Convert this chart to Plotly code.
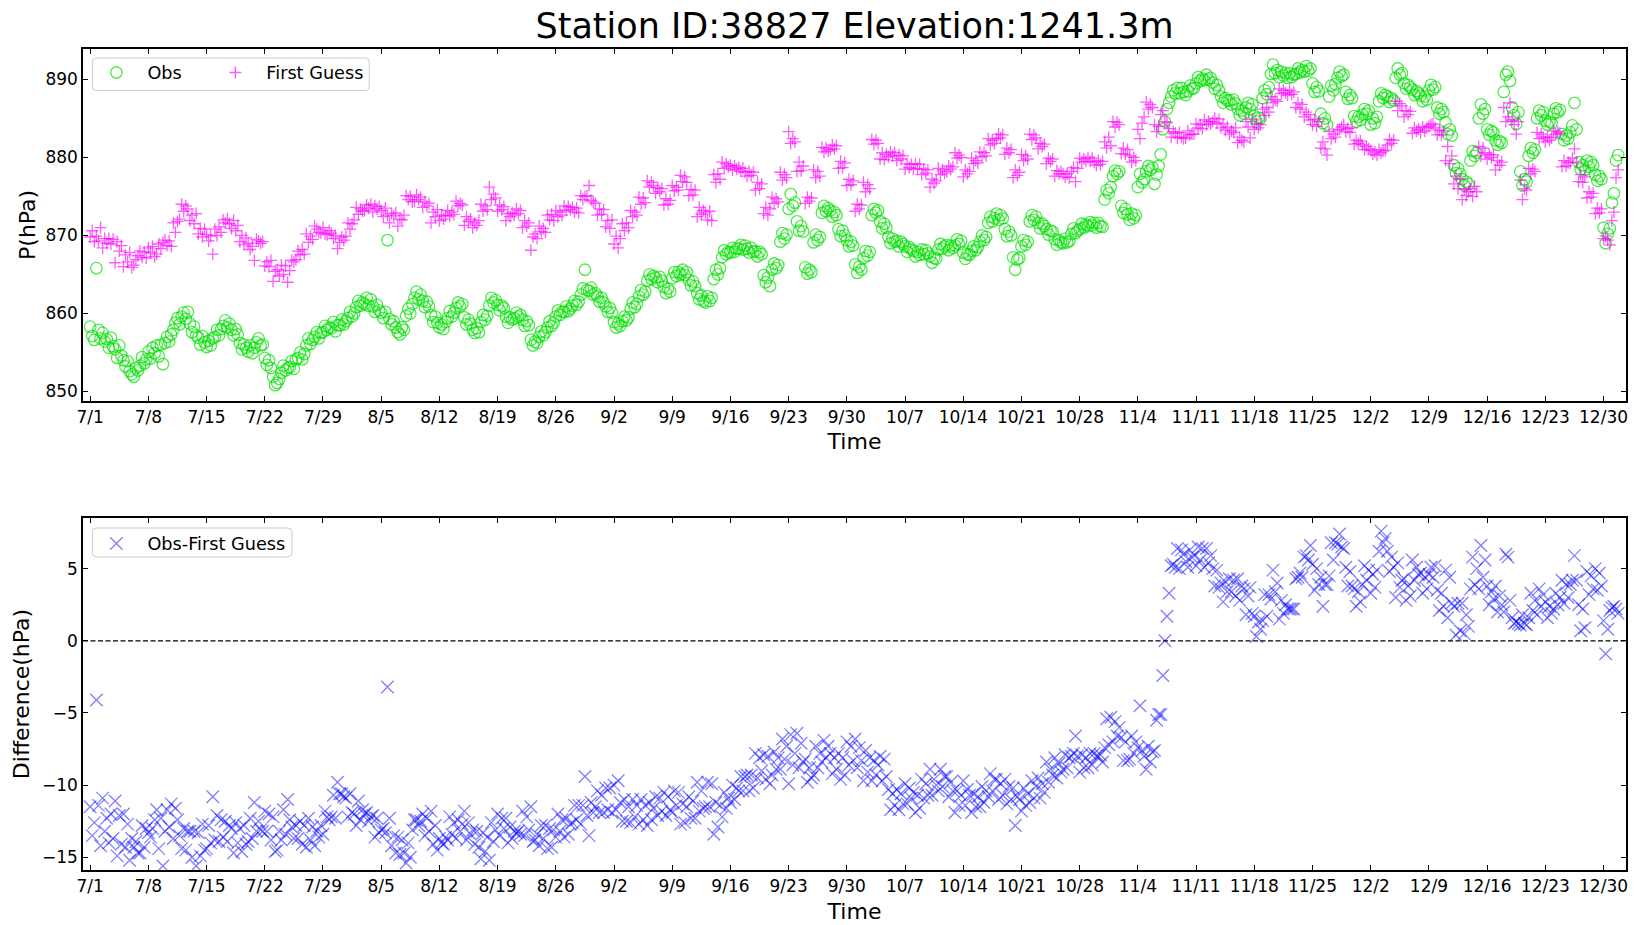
import pandas as pd
import plotly.graph_objects as go

TITLE = "Station ID:38827 Elevation:1241.3m"
START = "2023-07-01"
TICK_FMT = "%-m/%-d"

# 6-hourly observations (00, 06, 12, 18 UTC), hPa
obs_jul = [
    858.3, 857.1, 856.6, 865.8, 857.9, 856.8, 857.5, 856.4, 856.7, 855.6, 856.9, 855.8,
    855.4, 854.3, 855.9, 854.6, 854.0, 853.2, 853.9, 852.6, 852.2, 851.9, 853.0, 852.7,
    853.3, 854.4, 853.6, 854.1, 855.1, 854.2, 855.6, 854.9, 855.9, 854.5, 856.0, 853.5,
    856.2, 857.0, 856.4, 857.3, 857.9, 858.8, 859.4, 858.6, 859.6, 860.1, 859.3, 860.2,
    858.7, 857.6, 858.3, 857.2, 856.9, 856.0, 857.1, 856.3, 855.7, 856.5, 855.9, 856.8,
    857.0, 857.9, 857.2, 858.0, 858.4, 859.1, 858.2, 858.7, 857.9, 857.2, 858.0, 857.3,
    856.2, 855.4, 856.0, 855.6, 855.1, 855.9, 854.9, 855.6, 856.3, 856.8, 855.9, 856.0,
    854.3, 853.4, 854.0, 853.0, 851.9, 850.8, 851.1, 851.6, 852.4, 853.3, 852.7, 853.0,
    853.1, 853.9, 852.9, 854.1, 854.3, 855.0, 854.1, 854.8, 855.9, 856.8, 856.1, 856.6,
    857.0, 857.6, 856.8, 857.5, 857.6, 858.4, 857.9, 858.2, 858.1, 858.9, 857.7, 858.5,
    858.5, 859.2, 858.6, 859.0,
]
obs_aug = [
    859.4, 860.2, 859.6, 860.0, 860.8, 861.6, 861.0, 861.4, 861.2, 862.0, 861.0, 861.8,
    860.9, 860.2, 861.1, 860.4, 860.1, 859.4, 860.2, 869.4, 859.3, 858.6, 859.0, 858.2,
    857.6, 857.3, 858.2, 857.9, 859.7, 860.6, 860.0, 861.2, 862.0, 862.8, 861.8, 862.4,
    861.6, 860.8, 861.5, 860.9, 859.8, 858.9, 859.6, 858.8, 858.2, 858.6, 858.0, 858.9,
    859.4, 860.3, 859.6, 860.1, 860.7, 861.4, 860.9, 861.2, 859.5, 858.6, 859.2, 858.7,
    857.9, 857.5, 858.1, 857.6, 858.9, 859.8, 859.2, 859.7, 861.0, 862.0, 861.4, 861.7,
    861.1, 860.4, 861.0, 860.7, 859.6, 858.8, 859.5, 859.2, 859.4, 860.1, 859.6, 859.8,
    859.2, 858.4, 859.0, 858.5, 856.6, 855.9, 856.4, 856.2, 857.0, 857.7, 857.2, 857.6,
    858.2, 859.0, 858.4, 858.8, 859.6, 860.4, 859.8, 860.2, 860.2, 860.9, 860.3, 860.6,
    861.0, 861.6, 861.1, 861.5, 862.4, 863.2, 865.6, 863.0, 862.9, 863.3, 862.4, 862.6,
    862.2, 861.5, 862.0, 861.4,
]
obs_sep = [
    860.9, 860.2, 860.7, 860.1, 858.9, 858.2, 858.7, 858.4, 859.0, 859.6, 859.1, 859.5,
    860.6, 861.4, 860.8, 861.2, 862.2, 863.0, 862.4, 862.8, 864.2, 865.0, 864.4, 864.8,
    864.6, 864.0, 864.7, 864.2, 863.4, 862.6, 863.2, 862.8, 864.5, 865.3, 864.8, 865.3,
    865.0, 865.6, 864.9, 865.3, 864.3, 863.6, 864.1, 863.5, 862.6, 861.8, 862.3, 861.6,
    861.4, 862.2, 861.6, 862.0, 864.4, 865.6, 865.0, 865.8, 867.2, 868.1, 867.6, 867.9,
    867.8, 868.4, 867.9, 868.3, 868.3, 868.8, 868.2, 868.7, 868.3, 867.8, 868.4, 867.9,
    868.0, 867.3, 867.9, 867.6, 864.9, 864.0, 864.6, 863.5, 865.6, 866.4, 865.8, 866.2,
    869.2, 870.3, 869.6, 870.1, 873.4, 875.3, 873.8, 874.2, 871.8, 870.6, 871.2, 870.5,
    865.9, 865.1, 865.6, 865.3, 869.1, 870.1, 869.4, 869.8, 872.9, 873.8, 873.1, 873.5,
    873.2, 872.4, 873.0, 872.6, 870.8, 869.9, 870.6, 870.0, 869.4, 868.6, 869.2, 868.7,
]
obs_oct = [
    866.3, 865.2, 866.0, 865.6, 867.1, 868.0, 867.4, 867.9, 872.6, 873.4, 872.9, 873.2,
    871.8, 870.9, 871.5, 871.0, 869.8, 869.0, 869.6, 869.2, 869.3, 868.6, 869.2, 868.9,
    868.6, 867.9, 868.5, 868.2, 868.0, 867.3, 867.9, 867.5, 868.2, 867.6, 868.1, 867.7,
    867.3, 866.5, 867.1, 867.0, 868.2, 868.9, 868.3, 868.6, 868.8, 868.1, 868.7, 868.4,
    868.7, 869.5, 868.9, 869.3, 867.8, 867.0, 867.6, 867.5, 868.0, 868.6, 868.1, 868.5,
    869.2, 870.0, 869.4, 869.8, 871.6, 872.4, 871.8, 872.2, 872.8, 872.0, 872.6, 872.2,
    870.8, 869.9, 870.5, 870.0, 867.2, 865.6, 866.9, 867.1, 868.6, 869.4, 868.8, 869.2,
    871.8, 872.6, 872.0, 872.4, 871.6, 870.9, 871.5, 871.2, 870.8, 870.1, 870.6, 870.5,
    869.5, 868.8, 869.4, 869.1, 869.0, 869.6, 869.1, 869.3, 870.2, 870.9, 870.3, 870.6,
    870.8, 871.5, 871.0, 871.4, 871.2, 871.7, 871.3, 871.6, 871.0, 871.6, 871.2, 871.1,
    874.6, 875.8, 875.4, 876.2,
]
obs_nov = [
    877.6, 878.3, 877.9, 878.2, 873.8, 872.9, 873.4, 872.7, 872.0, 872.8, 872.2, 872.6,
    876.2, 877.9, 876.8, 877.2, 878.2, 878.9, 878.4, 878.7, 876.6, 877.8, 878.9, 880.4,
    883.6, 884.6, 886.2, 887.0, 887.8, 888.6, 888.2, 888.9, 888.2, 888.9, 888.4, 888.0,
    888.5, 889.2, 888.8, 888.9, 889.5, 890.3, 889.8, 890.1, 889.9, 890.6, 890.0, 890.2,
    889.6, 888.8, 889.3, 888.6, 887.8, 887.0, 887.6, 887.3, 887.3, 886.8, 887.4, 886.9,
    886.2, 885.4, 886.0, 885.6, 886.4, 887.0, 886.2, 886.8, 885.3, 884.6, 885.1, 885.0,
    887.6, 888.6, 888.1, 889.0, 890.7, 891.9, 890.8, 891.2, 890.3, 891.0, 890.5, 890.8,
    890.2, 890.8, 890.3, 890.6, 890.7, 891.4, 890.9, 891.2, 891.0, 891.7, 891.1, 891.4,
    889.5, 888.4, 889.0, 888.5, 885.6, 884.4, 885.0, 884.2, 887.8, 889.2, 888.6, 889.4,
    890.2, 891.0, 890.4, 890.6, 888.4, 887.5, 888.0, 887.6, 885.3, 884.6, 885.2, 884.8,
]
obs_dec = [
    885.5, 886.2, 885.6, 886.0, 884.2, 885.0, 884.4, 885.2, 887.2, 888.2, 887.6, 888.0,
    887.8, 887.1, 887.6, 887.3, 890.2, 891.4, 890.6, 890.8, 889.5, 888.8, 889.3, 889.0,
    888.7, 888.0, 888.5, 888.2, 887.9, 887.2, 887.8, 887.4, 888.6, 889.3, 888.7, 889.0,
    886.4, 885.6, 886.2, 885.8, 884.5, 883.0, 883.6, 882.8, 879.0, 878.0, 878.6, 877.9,
    877.2, 876.4, 876.9, 876.6, 879.6, 880.8, 880.2, 880.6, 885.0, 886.8, 885.6, 886.2,
    883.6, 882.9, 883.4, 883.2, 882.2, 881.6, 882.1, 881.9, 888.4, 890.6, 891.0, 889.8,
    886.4, 885.4, 884.3, 885.8, 878.2, 876.4, 877.2, 876.9, 880.2, 881.2, 880.6, 881.0,
    885.0, 886.0, 885.4, 885.8, 884.7, 884.2, 884.6, 884.4, 885.6, 886.3, 885.8, 886.1,
    883.0, 882.2, 882.8, 882.4, 883.2, 884.1, 887.0, 883.6, 879.4, 878.5, 879.0, 878.4,
    879.6, 878.8, 879.4, 879.0, 877.8, 877.0, 877.6, 877.2, 871.0, 869.0, 870.2, 870.9,
    874.2, 875.4, 879.6, 880.3,
]

# 6-hourly first guess, hPa
fg_jul = [
    869.8, 870.6, 869.2, 869.9, 869.3, 871.0, 868.4, 869.6, 869.0, 869.6, 868.9, 869.5,
    866.5, 869.2, 868.0, 868.7, 866.0, 867.5, 866.6, 867.8, 865.9, 866.2, 866.9, 867.4,
    868.0, 867.2, 867.9, 867.1, 868.4, 867.8, 868.6, 867.3, 867.6, 868.9, 868.3, 869.1,
    869.4, 868.7, 869.3, 868.6, 871.6, 870.4, 871.8, 872.1, 874.0, 873.1, 873.8, 873.4,
    871.9, 872.6, 871.5, 872.8, 870.2, 870.9, 869.8, 870.8, 870.1, 869.3, 869.9, 867.6,
    870.8, 870.0, 871.1, 870.4, 872.0, 871.6, 872.1, 871.5, 870.9, 871.9, 870.6, 871.3,
    869.2, 870.0, 868.8, 869.7, 869.0, 868.2, 868.6, 866.8, 869.5, 869.3, 869.0, 869.2,
    866.1, 866.6, 866.0, 866.8, 864.1, 865.4, 865.6, 864.8, 866.2, 865.0, 866.1, 864.0,
    865.5, 866.8, 866.6, 866.9, 868.0, 867.5, 868.2, 867.6, 870.2, 869.1, 869.9, 869.5,
    871.2, 870.8, 870.4, 870.3, 871.0, 870.2, 870.1, 870.6, 870.3, 869.6, 870.0, 868.3,
    869.1, 869.8, 869.4, 869.9,
]
fg_aug = [
    871.6, 870.8, 871.5, 872.0, 873.6, 872.7, 873.4, 873.1, 873.2, 873.9, 873.5, 874.0,
    873.0, 873.8, 873.4, 873.7, 873.2, 872.4, 873.5, 872.6, 871.6, 872.8, 872.5, 872.9,
    871.2, 872.1, 872.0, 872.6, 875.1, 874.6, 875.0, 874.3, 874.4, 875.2, 874.6, 874.9,
    873.6, 874.3, 873.8, 874.1, 871.6, 873.0, 872.4, 873.3, 871.9, 872.6, 872.1, 872.5,
    873.2, 872.5, 873.0, 872.7, 874.4, 873.8, 874.1, 873.9, 871.3, 872.4, 871.8, 872.1,
    871.0, 871.6, 871.3, 871.9, 874.0, 873.1, 873.8, 873.3, 876.2, 874.6, 875.3, 874.8,
    873.1, 873.9, 873.3, 873.7, 871.9, 872.8, 872.4, 872.9, 872.6, 873.4, 872.8, 873.2,
    871.0, 871.9, 871.2, 871.6, 868.1, 869.8, 870.2, 869.6, 871.2, 870.5, 870.9, 870.4,
    872.6, 872.0, 872.7, 871.9, 873.2, 872.4, 873.0, 872.6, 873.8, 873.2, 873.7, 873.3,
    873.6, 873.0, 873.5, 872.9, 875.1, 874.6, 875.0, 875.1, 876.4, 874.5, 874.3, 874.1,
    872.6, 873.4, 872.7, 873.3,
]
fg_sep = [
    871.1, 871.9, 870.9, 872.0, 868.9, 869.9, 868.4, 869.6, 871.5, 870.6, 871.6, 871.0,
    873.2, 872.4, 873.0, 872.6, 874.9, 874.0, 874.8, 874.2, 877.0, 876.2, 876.8, 876.4,
    875.4, 876.1, 875.6, 876.0, 873.9, 874.7, 874.0, 874.5, 876.4, 875.7, 876.2, 875.8,
    877.7, 876.9, 877.5, 876.8, 875.1, 875.9, 875.2, 875.8, 872.4, 873.6, 872.7, 873.2,
    872.9, 872.0, 873.1, 871.9, 877.8, 876.8, 877.9, 877.2, 879.4, 878.6, 879.2, 878.8,
    879.0, 878.4, 878.9, 878.5, 878.7, 878.2, 878.6, 878.1, 877.6, 878.2, 877.7, 878.1,
    875.8, 876.8, 876.0, 876.6, 872.8, 873.6, 872.6, 873.4, 874.9, 874.1, 874.7, 874.3,
    878.1, 877.1, 877.8, 877.4, 883.3, 881.8, 882.4, 882.0, 878.2, 879.4, 878.3, 878.9,
    874.1, 874.9, 874.4, 874.8, 878.4, 877.4, 878.2, 877.6, 881.3, 880.7, 881.2, 880.8,
    881.0, 881.6, 881.1, 881.5, 878.6, 879.5, 878.7, 879.3, 876.4, 877.2, 876.5, 877.0,
]
fg_oct = [
    873.1, 874.0, 873.4, 873.9, 876.8, 875.6, 876.5, 876.0, 882.3, 881.7, 882.2, 881.8,
    879.8, 880.6, 879.7, 880.4, 880.1, 880.7, 880.2, 880.6, 879.6, 880.3, 879.8, 880.2,
    878.5, 879.2, 878.7, 879.1, 878.5, 879.2, 878.6, 879.1, 877.8, 878.5, 878.0, 878.4,
    876.2, 877.2, 876.7, 877.0, 878.6, 877.8, 878.4, 878.0, 878.2, 878.9, 878.5, 878.8,
    880.6, 879.9, 880.3, 880.0, 877.5, 878.4, 877.9, 878.2, 879.9, 879.2, 879.6, 879.3,
    880.7, 880.1, 880.6, 880.2, 882.4, 881.6, 882.2, 881.8, 882.4, 883.0, 882.5, 882.9,
    880.4, 881.2, 880.6, 881.0, 877.4, 878.4, 877.7, 878.1, 880.4, 879.6, 880.2, 879.8,
    883.0, 882.3, 882.9, 882.5, 881.1, 881.8, 881.4, 881.7, 879.2, 879.9, 879.5, 879.8,
    877.6, 878.3, 877.9, 878.2, 877.9, 877.5, 877.9, 877.4, 878.2, 878.7, 876.9, 878.6,
    879.9, 879.4, 879.8, 879.5, 880.0, 879.5, 879.9, 879.4, 879.0, 879.6, 879.1, 879.5,
    882.0, 881.2, 882.6, 881.5,
]
fg_nov = [
    884.6, 883.9, 884.5, 884.2, 880.5, 881.2, 880.4, 881.0, 880.2, 879.4, 880.0, 879.6,
    883.6, 882.4, 884.4, 885.2, 887.1, 886.2, 886.8, 886.4, 884.2, 883.3, 884.0, 885.5,
    886.0, 884.6, 884.5, 883.7, 882.6, 883.3, 883.1, 882.5, 883.2, 882.6, 882.4, 882.5,
    883.4, 882.9, 883.0, 883.0, 884.3, 883.8, 884.2, 883.7, 884.8, 884.2, 884.6, 884.3,
    884.6, 885.0, 884.4, 884.9, 883.8, 884.3, 883.5, 883.9, 883.0, 883.4, 883.2, 883.8,
    881.9, 882.6, 882.2, 882.0, 884.6, 883.9, 882.5, 884.9, 883.6, 884.3, 883.8, 884.2,
    886.2, 885.4, 886.4, 885.8, 887.8, 887.0, 887.4, 887.2, 888.8, 888.2, 888.6, 888.3,
    888.0, 888.6, 888.1, 888.4, 886.4, 887.0, 886.2, 886.8, 885.2, 885.8, 885.5, 884.8,
    884.2, 884.9, 884.0, 884.6, 881.2, 882.0, 881.1, 880.3, 883.3, 882.4, 883.0, 882.6,
    883.5, 883.6, 883.9, 884.2, 883.3, 883.7, 883.2, 883.8, 881.7, 882.2, 881.8, 882.1,
]
fg_dec = [
    881.6, 881.0, 881.4, 881.1, 880.9, 880.4, 880.7, 880.3, 881.0, 880.6, 880.8, 880.9,
    881.6, 882.3, 881.8, 882.2, 887.2, 886.0, 886.9, 886.6, 885.2, 886.0, 885.5, 885.9,
    883.1, 883.8, 883.4, 883.6, 883.2, 883.9, 883.4, 883.8, 884.0, 884.2, 884.3, 883.8,
    882.9, 883.5, 882.9, 883.4, 879.6, 881.4, 879.2, 880.2, 876.6, 877.6, 876.0, 877.2,
    874.6, 875.9, 875.1, 875.6, 876.0, 875.0, 876.3, 875.6, 881.4, 880.2, 881.2, 880.6,
    879.8, 880.4, 880.0, 880.3, 878.4, 879.6, 879.0, 879.4, 886.4, 884.6, 885.2, 887.0,
    884.8, 884.2, 883.0, 884.6, 877.1, 874.6, 876.0, 875.8, 878.6, 877.9, 878.5, 878.2,
    883.2, 882.4, 883.0, 882.6, 882.0, 882.6, 882.2, 882.5, 883.4, 883.0, 883.3, 883.1,
    878.8, 879.6, 878.9, 879.4, 879.3, 879.9, 881.1, 879.4, 876.9, 877.8, 876.8, 877.5,
    874.8, 875.6, 874.9, 875.4, 872.8, 873.5, 872.9, 873.4, 869.6, 869.9, 869.4, 868.8,
    871.9, 873.0, 877.4, 878.4,
]

obs = obs_jul + obs_aug + obs_sep + obs_oct + obs_nov + obs_dec
fg = fg_jul + fg_aug + fg_sep + fg_oct + fg_nov + fg_dec
times = pd.date_range(START, periods=len(obs), freq="6h")
diff = [round(o - f, 2) for o, f in zip(obs, fg)]

FONT = "DejaVu Sans"
X_RANGE = ["2023-06-30 03:22", "2024-01-01 16:48"]
WEEK_MS = 7 * 24 * 3600 * 1000

# figure geometry (px)
W, H = 1639, 925
ML, MR, MT, MB = 82.6, 12.5, 48.5, 54.6
PW, PH = W - ML - MR, H - MT - MB


def px_x(px):
    return (px - ML) / PW


def px_y(py):
    return 1 - (py - MT) / PH


def rounded_box(x0p, x1p, y0p, y1p, r=4):
    x0, x1 = px_x(x0p), px_x(x1p)
    yt, yb = px_y(y0p), px_y(y1p)
    rx, ry = r / PW, r / PH
    return (f"M{x0 + rx},{yt} L{x1 - rx},{yt} Q{x1},{yt} {x1},{yt - ry} "
            f"L{x1},{yb + ry} Q{x1},{yb} {x1 - rx},{yb} L{x0 + rx},{yb} "
            f"Q{x0},{yb} {x0},{yb + ry} L{x0},{yt - ry} Q{x0},{yt} {x0 + rx},{yt} Z")


fig = go.Figure()
fig.add_trace(go.Scatter(
    x=times, y=obs, mode="markers", name="Obs", xaxis="x", yaxis="y", legend="legend",
    showlegend=True,
    marker=dict(symbol="circle-open", size=11.5, color="rgba(0,225,0,0.7)", line=dict(width=1.3)),
))
fig.add_trace(go.Scatter(
    x=times, y=fg, mode="markers", name="First Guess", xaxis="x", yaxis="y", legend="legend2",
    showlegend=True,
    marker=dict(symbol="cross-thin-open", size=8.6, color="rgba(255,0,255,0.65)", line=dict(width=1.3)),
))
fig.add_trace(go.Scatter(
    x=times, y=diff, mode="markers", name="Obs-First Guess", xaxis="x2", yaxis="y2", legend="legend3",
    showlegend=True,
    marker=dict(symbol="x-thin-open", size=12.5, color="rgba(0,0,255,0.5)", line=dict(width=1.3)),
))

common_axis = dict(
    automargin=False,
    showline=True, linecolor="black", linewidth=1.5, mirror="ticks",
    ticks="inside", ticklen=5, tickwidth=1.2, tickcolor="black",
    showgrid=False, zeroline=False,
    tickfont=dict(family=FONT, size=17, color="black"),
)
xcommon = dict(common_axis, type="date", range=X_RANGE, tick0=START, dtick=WEEK_MS,
               tickformat=TICK_FMT,
               title=dict(text="Time", font=dict(family=FONT, size=22, color="black"), standoff=8))

legend_common = dict(orientation="h", xanchor="left", yanchor="top",
                     bgcolor="rgba(0,0,0,0)", borderwidth=0,
                     font=dict(family=FONT, size=17.7, color="black"),
                     itemwidth=52, visible=True)

fig.update_layout(
    width=W, height=H,
    showlegend=True,
    margin=dict(l=ML, r=MR, t=MT, b=MB, autoexpand=False),
    paper_bgcolor="white", plot_bgcolor="white",
    font=dict(family=FONT, color="black"),
    title=dict(text=TITLE, x=0.5, xref="paper", xanchor="center",
               y=1 - 26 / H, yref="container", yanchor="middle",
               font=dict(family=FONT, size=35, color="black")),
    xaxis=dict(xcommon, domain=[0, 1], anchor="y"),
    yaxis=dict(common_axis, domain=[px_y(400.7), 1], anchor="x", range=[848.8, 893.9],
               tick0=850, dtick=10,
               title=dict(text="P(hPa)", font=dict(family=FONT, size=22, color="black"), standoff=4)),
    xaxis2=dict(xcommon, domain=[0, 1], anchor="y2"),
    yaxis2=dict(common_axis, domain=[0, px_y(518)], anchor="x2", range=[-15.88, 8.51],
                tick0=0, dtick=5,
                title=dict(text="Difference(hPa)", font=dict(family=FONT, size=22, color="black"), standoff=6)),
    legend=dict(legend_common, x=px_x(85), y=px_y(54)),
    legend2=dict(legend_common, x=px_x(204), y=px_y(54)),
    legend3=dict(legend_common, x=px_x(85), y=px_y(525.5)),
    shapes=[
        dict(type="line", xref="x2 domain", yref="y2", x0=0, x1=1, y0=0, y1=0,
             line=dict(color="black", width=1.2, dash="5px,2.5px")),
        dict(type="path", xref="paper", yref="paper", path=rounded_box(92, 369, 57.5, 90),
             fillcolor="rgba(255,255,255,0.8)", line=dict(color="#cccccc", width=1), layer="above"),
        dict(type="path", xref="paper", yref="paper", path=rounded_box(92, 291.6, 528, 557),
             fillcolor="rgba(255,255,255,0.8)", line=dict(color="#cccccc", width=1), layer="above"),
    ],
)

fig.write_html("out.html", post_script="document.body.style.margin='0';")
